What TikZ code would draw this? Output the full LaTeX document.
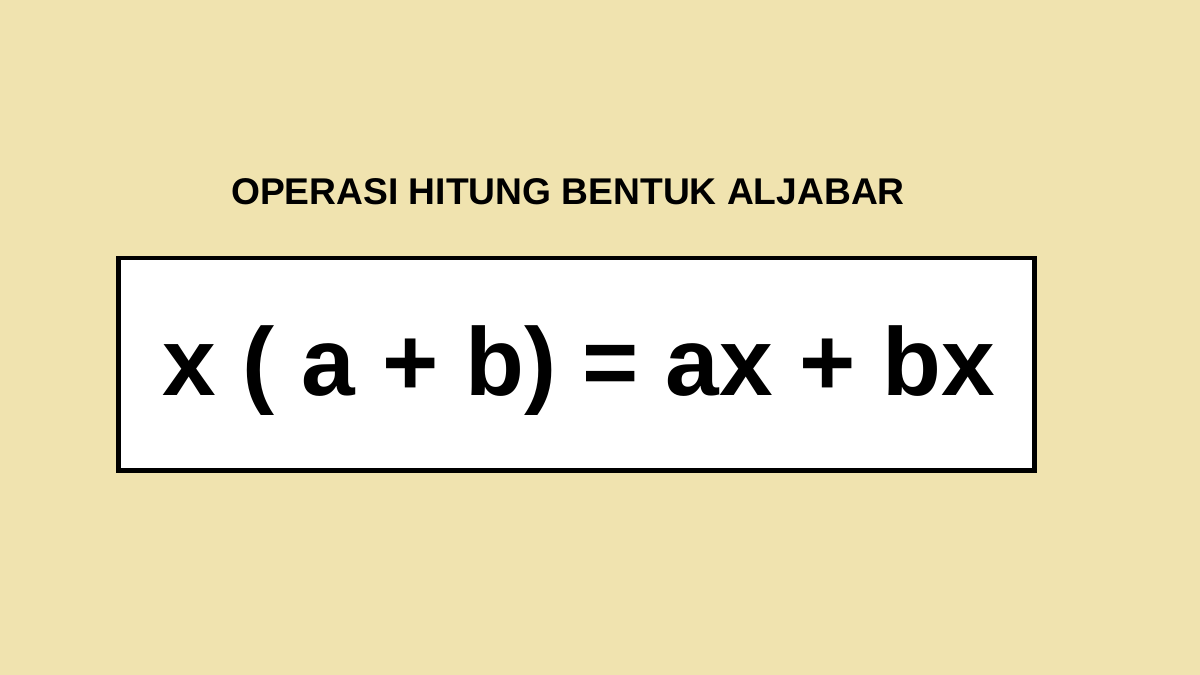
\documentclass[tikz,border=0pt]{standalone}
\usepackage{fontspec}
\setmainfont{Liberation Sans}
\definecolor{bg}{HTML}{F0E3AF}
\begin{document}
\begin{tikzpicture}[x=0.5pt,y=-0.5pt,
  titletext/.style={inner sep=0pt, anchor=base, font=\fontsize{18.6pt}{20pt}\selectfont\bfseries},
  eqtext/.style={inner sep=0pt, anchor=base, font=\fontsize{48.2pt}{54pt}\selectfont\bfseries},
  framebox/.style={draw=black, line width=2.3pt, fill=white}]
\fill[bg] (0,0) rectangle (1200,675);
\useasboundingbox (0,0) rectangle (1200,675);
\node[titletext] (title) at (568,204) {OPERASI HITUNG BENTUK ALJABAR};
\draw[framebox] (118.5,258) rectangle (1034.5,470.5);
\node[eqtext] (eq) at (579,395) {x ( a + b) = ax + bx};
\end{tikzpicture}
\end{document}
